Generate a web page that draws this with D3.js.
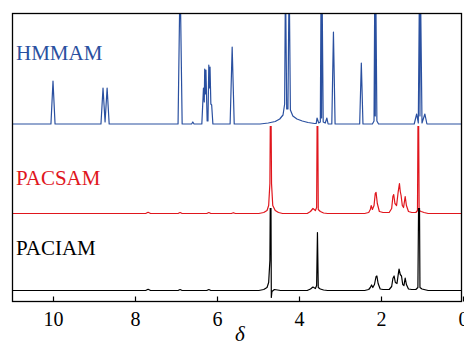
<!DOCTYPE html>
<html>
<head>
<meta charset="utf-8">
<script src="https://cdn.jsdelivr.net/npm/d3@7"></script>
<style>
  body { margin: 0; background: #fff; }
  svg { display: block; }
</style>
</head>
<body>
<div id="chart"></div>
<script>
// chemical shift (ppm) and intensity points
var hmmam = [
  [11, 0], [10.05, 0], [10.0, 43], [9.95, 0],
  [8.83, 0], [8.78, 36], [8.73, 2], [8.68, 36], [8.63, 0],
  [6.95, 0], [6.90, 150], [6.85, 0],
  [6.62, 0], [6.59, 2], [6.56, 0],
  [6.37, 0], [6.33, 36], [6.31, 22], [6.30, 55], [6.285, 30], [6.27, 54], [6.24, 3],
  [6.22, 3], [6.20, 59], [6.185, 36], [6.17, 57], [6.15, 20], [6.13, 19], [6.10, 0],
  [5.68, 0], [5.63, 77], [5.58, 0],
  [4.95, 0], [4.75, 1], [4.58, 2.5], [4.47, 5], [4.39, 9], [4.35, 20], [4.33, 150],
  [4.30, 15], [4.27, 15], [4.24, 150], [4.21, 14], [4.15, 8], [4.05, 5], [3.92, 3],
  [3.78, 1.5], [3.62, 0.5],
  [3.58, 0.5], [3.56, 6], [3.52, 1], [3.48, 2], [3.46, 150], [3.45, 6], [3.44, 150],
  [3.41, 2], [3.36, 1], [3.32, 6], [3.29, 0],
  [3.20, 0], [3.16, 92], [3.12, 0],
  [2.52, 0], [2.48, 61], [2.44, 0],
  [2.21, 0], [2.17, 3], [2.15, 150], [2.14, 8], [2.13, 150], [2.10, 3], [2.06, 0],
  [1.19, 0], [1.13, 10], [1.09, 1], [1.06, 150], [1.05, 8], [1.04, 150], [1.00, 1],
  [0.93, 10], [0.88, 0], [0, 0]
];

var pacsam = [
  [11, 0], [7.74, 0], [7.68, 1.2], [7.62, 0],
  [6.95, 0], [6.90, 1], [6.85, 0],
  [6.25, 0], [6.20, 1], [6.15, 0],
  [5.65, 0], [5.60, 0.8], [5.55, 0],
  [4.98, 0], [4.86, 1], [4.78, 3], [4.74, 8], [4.71, 30], [4.69, 150], [4.67, 30],
  [4.64, 8], [4.58, 3], [4.50, 1], [4.40, 0],
  [3.80, 0], [3.72, 2], [3.66, 5], [3.60, 3], [3.57, 6], [3.55, 150], [3.53, 4],
  [3.48, 2], [3.40, 0.5], [3.30, 0],
  [2.40, 0], [2.30, 1], [2.26, 4], [2.24, 8], [2.21, 4], [2.17, 8], [2.14, 20],
  [2.12, 21], [2.09, 10], [2.04, 2], [1.95, 1], [1.80, 1], [1.74, 5], [1.71, 17],
  [1.69, 19], [1.66, 10], [1.62, 8], [1.58, 22], [1.55, 30], [1.53, 22], [1.51, 18],
  [1.48, 8], [1.45, 6], [1.41, 17], [1.38, 8], [1.33, 2], [1.25, 1], [1.15, 1],
  [1.11, 3], [1.09, 150], [1.07, 3], [1.02, 2], [0.95, 1], [0.85, 0], [0, 0]
];

var paciam = [
  [11, 0], [7.74, 0], [7.68, 1.2], [7.62, 0],
  [6.95, 0], [6.90, 1], [6.85, 0],
  [6.25, 0], [6.20, 1], [6.15, 0],
  [4.98, 0], [4.86, 1], [4.78, 3], [4.74, 8], [4.71, 30], [4.69, 150], [4.675, -7],
  [4.66, -1], [4.60, 1], [4.45, 0],
  [3.80, 0], [3.72, 1.5], [3.66, 3.5], [3.60, 2], [3.57, 5], [3.55, 58], [3.53, 3],
  [3.48, 1.5], [3.40, 0.5], [3.30, 0],
  [2.40, 0], [2.30, 1], [2.26, 3], [2.23, 5.5], [2.20, 3], [2.16, 6], [2.12, 14],
  [2.10, 14.5], [2.07, 7], [2.02, 1.5], [1.95, 1], [1.80, 1], [1.74, 4], [1.71, 12],
  [1.68, 14.5], [1.65, 8], [1.61, 7], [1.58, 16], [1.56, 21.5], [1.53, 16], [1.50, 14.5],
  [1.47, 6], [1.44, 5], [1.41, 12.5], [1.38, 6], [1.33, 1.5], [1.25, 1], [1.15, 1],
  [1.10, 3], [1.07, 150], [1.05, 3], [1.00, 1.5], [0.95, 1], [0.85, 0], [0, 0]
];

var seriesNames = ['HMMAM', 'PACSAM', 'PACIAM'];
var seriesData = [hmmam, pacsam, paciam];
var xTicks = [10, 8, 6, 4, 2, 0];

var width = 464,
    height = 349,
    margin = { left: 12, right: 2, top: 13, bottom: 48 },
    colors = ['#2a50a0', '#e0161d', '#000000'],
    baselines = [124, 213.5, 290.5],   // y of each trace's zero line
    clipTops = [13, 126, 208],         // each trace is cut off above this
    labelY = [60, 185, 255];

var svg = d3.select('#chart')
  .append('svg')
    .attr('width', width)
    .attr('height', height)
    .style('font-family', '"Liberation Serif", "Times New Roman", serif');

var x = d3.scaleLinear()
  .domain([11, 0])
  .range([margin.left, 463]);

var plotBottom = height - margin.bottom + 0.5;
var plotRight = width - margin.right;

var defs = svg.append('defs');
seriesData.forEach(function (d, i) {
  defs.append('clipPath')
      .attr('id', 'clip' + i)
    .append('rect')
      .attr('x', margin.left)
      .attr('y', clipTops[i])
      .attr('width', plotRight - margin.left)
      .attr('height', plotBottom - clipTops[i]);
});

seriesData.forEach(function (d, i) {
  var y = d3.scaleLinear()
    .domain([0, 100])
    .range([baselines[i], baselines[i] - 100]);

  var line = d3.line()
    .x(function (p) { return x(p[0]); })
    .y(function (p) { return y(p[1]); });

  svg.append('path')
    .datum(d)
    .attr('clip-path', 'url(#clip' + i + ')')
    .attr('fill', 'none')
    .attr('stroke', colors[i])
    .attr('stroke-width', 1.2)
    .attr('stroke-linejoin', 'round')
    .attr('d', line);

  svg.append('text')
    .attr('x', 16)
    .attr('y', labelY[i])
    .attr('fill', colors[i])
    .style('font-size', '21px')
    .text(seriesNames[i]);
});

// frame
svg.append('rect')
  .attr('x', margin.left + 0.5)
  .attr('y', margin.top + 0.5)
  .attr('width', plotRight - margin.left - 1)
  .attr('height', plotBottom - margin.top - 0.5)
  .attr('fill', 'none')
  .attr('stroke', '#000')
  .attr('stroke-width', 1.3);

var xAxis = d3.axisBottom(x)
  .tickValues(xTicks)
  .tickSizeInner(-5)
  .tickSizeOuter(0)
  .tickPadding(12)
  .tickFormat(d3.format('d'));

var ax = svg.append('g')
  .attr('transform', 'translate(0,' + plotBottom + ')')
  .call(xAxis);

ax.select('.domain').remove();
ax.selectAll('line').attr('stroke', '#000').attr('stroke-width', 1.2);
ax.selectAll('text')
  .attr('fill', '#000')
  .attr('y', 0)
  .attr('dy', '24px')
  .style('font-family', '"Liberation Serif", "Times New Roman", serif')
  .style('font-size', '20px');

svg.append('text')
  .attr('x', 240)
  .attr('y', 341)
  .attr('text-anchor', 'middle')
  .style('font-size', '21px')
  .style('font-style', 'italic')
  .text('δ');
</script>
</body>
</html>
